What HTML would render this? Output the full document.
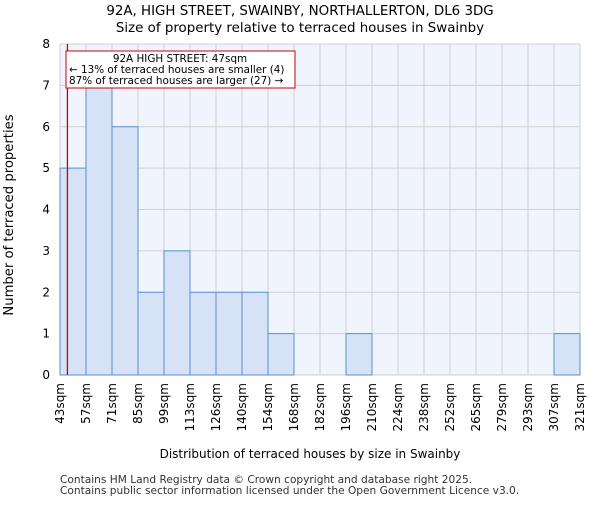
<!DOCTYPE html>
<html><head><meta charset="utf-8"><style>
body{margin:0;background:#fff;}
svg text{font-family:"DejaVu Sans","Liberation Sans",sans-serif;}
</style></head><body>
<svg id="chart" width="600" height="500" xmlns="http://www.w3.org/2000/svg">
<text x="300" y="15" text-anchor="middle" font-size="13.4">92A, HIGH STREET, SWAINBY, NORTHALLERTON, DL6 3DG</text>
<text x="300" y="32" text-anchor="middle" font-size="13.4">Size of property relative to terraced houses in Swainby</text>
<rect x="60" y="44" width="520" height="331" fill="#f0f4fc"/>
<g id="grid"></g><g id="bars"></g><g id="axes"></g>
<line id="marker" stroke="#cc0000" stroke-width="1.3"/>
<rect x="66" y="51" width="229" height="37" fill="#fff" stroke="#cc0000" stroke-width="1"/>
<text x="180" y="62" text-anchor="middle" font-size="10.4">92A HIGH STREET: 47sqm</text>
<text x="69" y="73" font-size="10.4">← 13% of terraced houses are smaller (4)</text>
<text x="69" y="84" font-size="10.4">87% of terraced houses are larger (27) →</text>
<text x="310" y="458" text-anchor="middle" font-size="12">Distribution of terraced houses by size in Swainby</text>
<text transform="translate(13,215) rotate(-90)" text-anchor="middle" font-size="13.2">Number of terraced properties</text>
<text x="60" y="483" font-size="10.6" fill="#333">Contains HM Land Registry data © Crown copyright and database right 2025.</text>
<text x="60" y="494" font-size="10.6" fill="#333">Contains public sector information licensed under the Open Government Licence v3.0.</text>
</svg>
<script>
const categories=["43sqm","57sqm","71sqm","85sqm","99sqm","113sqm","126sqm","140sqm","154sqm","168sqm","182sqm","196sqm","210sqm","224sqm","238sqm","252sqm","265sqm","279sqm","293sqm","307sqm","321sqm"];
const counts=[5,7,6,2,3,2,2,2,1,0,0,1,0,0,0,0,0,0,0,1];
const yTicks=[0,1,2,3,4,5,6,7,8];
const propertySize=47;
const binStart=43, binWidth=14;
const NS="http://www.w3.org/2000/svg";
const X0=60,X1=580,Y0=375,Y1=44,YMAX=8;
const bw=(X1-X0)/counts.length;
function xBin(i){return X0+i*bw;}
function xVal(v){return X0+(v-binStart)/binWidth*bw;}
function y(v){return Y0-(v/YMAX)*(Y0-Y1);}
function mk(t,a,p){const e=document.createElementNS(NS,t);for(const k in a)e.setAttribute(k,a[k]);p.appendChild(e);return e;}
const grid=document.getElementById('grid'),bars=document.getElementById('bars'),axes=document.getElementById('axes');
yTicks.forEach(t=>{
 const l=mk('line',{x1:X0,x2:X1,y1:y(t),y2:y(t),stroke:'#d0d0d0','stroke-width':1},grid);
 
 
 const tx=mk('text',{x:X0-10,y:y(t)+4,'text-anchor':'end','font-size':12},axes);
 tx.textContent=t;
 
 
});
categories.forEach((c,i)=>{
 const xx=xBin(i);
 const l=mk('line',{x1:xx,x2:xx,y1:Y1,y2:Y0,stroke:'#d0d0d0','stroke-width':1},grid);
 
 
 const tx=mk('text',{transform:`translate(${xx+4},${Y0+8}) rotate(-90)`,'text-anchor':'end','font-size':12},axes);
 tx.textContent=c;
 
 
});
counts.forEach((v,i)=>{
 if(v<=0)return;
 const r=mk('rect',{x:xBin(i),y:y(v),width:bw,height:Y0-y(v),fill:'#d6e2f5',stroke:'#5b8fd4','stroke-width':1},bars);
 
 
});
const m=document.getElementById('marker');
const mx=xVal(propertySize);
m.setAttribute('x1',mx);m.setAttribute('x2',mx);m.setAttribute('y1',Y1);m.setAttribute('y2',Y0);
</script>
</body></html>
